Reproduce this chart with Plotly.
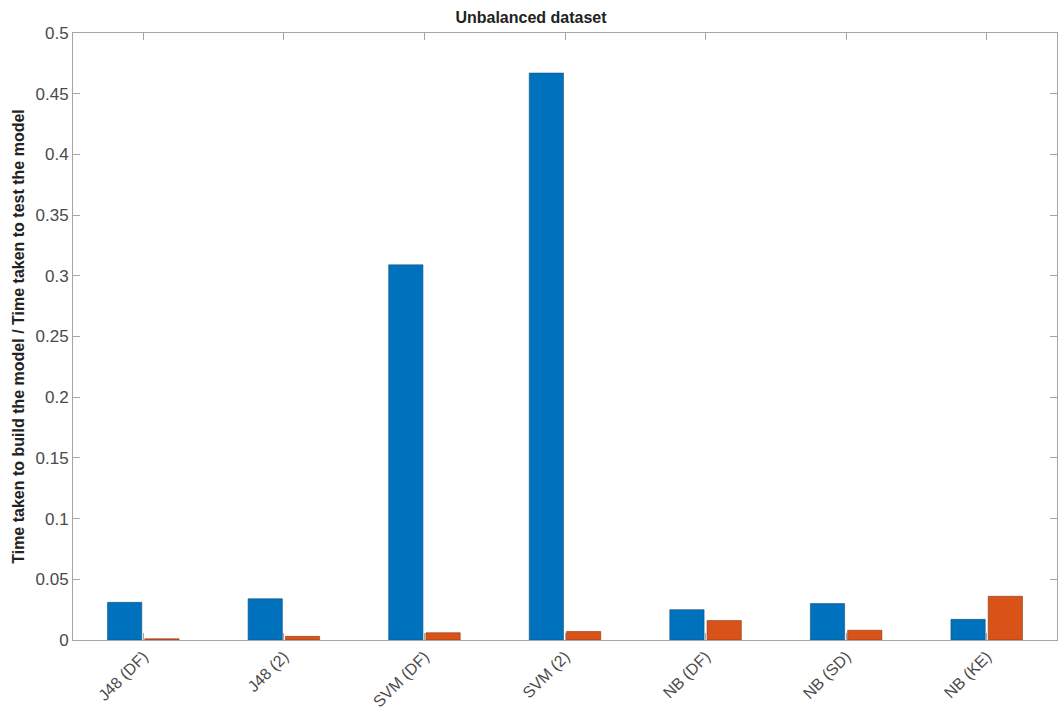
import plotly.graph_objects as go

# Model variants on the x axis
categories = ["J48 (DF)", "J48 (2)", "SVM (DF)", "SVM (2)", "NB (DF)", "NB (SD)", "NB (KE)"]

# Time taken to build the model (s)
build_time = [0.031, 0.034, 0.309, 0.467, 0.025, 0.030, 0.017]
# Time taken to test the model (s)
test_time = [0.001, 0.003, 0.006, 0.007, 0.016, 0.008, 0.036]

y_ticks = [0, 0.05, 0.1, 0.15, 0.2, 0.25, 0.3, 0.35, 0.4, 0.45, 0.5]
y_tick_text = ["0", "0.05", "0.1", "0.15", "0.2", "0.25", "0.3", "0.35", "0.4", "0.45", "0.5"]

BLUE = "#0072BD"
ORANGE = "#D95319"
AXIS = "#a6a6a6"
FONT = "Liberation Sans, Arial, sans-serif"

fig = go.Figure()
fig.add_trace(go.Bar(x=categories, y=build_time, name="Build",
                     marker=dict(color=BLUE, line=dict(color="#1a4f80", width=0.6))))
fig.add_trace(go.Bar(x=categories, y=test_time, name="Test",
                     marker=dict(color=ORANGE, line=dict(color="#8a3a14", width=0.6))))

fig.update_layout(
    width=1062, height=713,
    margin=dict(l=73, r=5, t=33, b=73),
    paper_bgcolor="white", plot_bgcolor="white",
    barmode="group", bargap=0.47, bargroupgap=0.08,
    showlegend=False,
    font=dict(family=FONT, color="#4a4a4a", size=17),
    title=dict(text="<b>Unbalanced dataset</b>", x=0.5, xanchor="center",
               y=0.975, yanchor="middle",
               font=dict(family=FONT, size=16, color="#222222")),
)

fig.update_xaxes(
    type="category", range=[-0.5, 6.5], automargin=False,
    showline=True, linecolor=AXIS, linewidth=1, mirror="ticks",
    ticks="inside", ticklen=7, tickcolor=AXIS,
    tickangle=-45, tickfont=dict(size=16, color="#4a4a4a"),
    showgrid=False, zeroline=False,
)
fig.update_yaxes(
    range=[0, 0.5], tickvals=y_ticks, ticktext=y_tick_text, automargin=False,
    showline=True, linecolor=AXIS, linewidth=1, mirror="ticks",
    ticks="inside", ticklen=7, tickcolor=AXIS,
    tickfont=dict(size=17, color="#4a4a4a"),
    showgrid=False, zeroline=False,
    title=dict(text="<b>Time taken to build the model / Time taken to test the model</b>",
               font=dict(family=FONT, size=16, color="#222222"), standoff=6),
)

fig.write_html("out.html")
